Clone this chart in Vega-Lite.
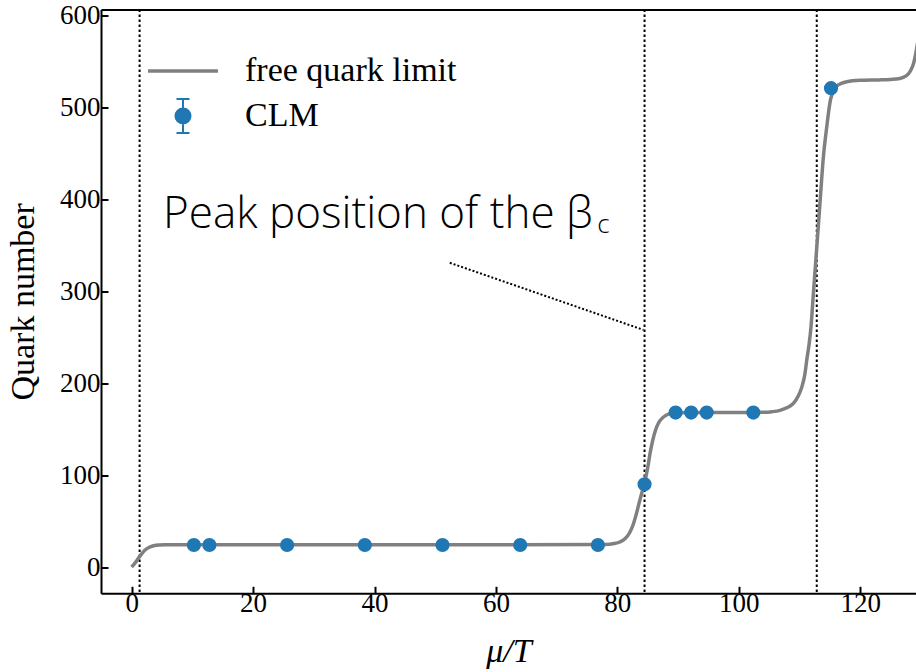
{
  "$schema": "https://vega.github.io/schema/vega-lite/v6.json",
  "autosize": {"type": "none"},
  "padding": {"left": 101, "top": 9.5, "right": 0, "bottom": 78.7},
  "width": 815,
  "height": 583.8,
  "config": {
    "view": {"stroke": null},
    "font": "Liberation Serif",
    "axis": {
      "grid": false,
      "domainColor": "black",
      "domainWidth": 2,
      "tickColor": "black",
      "tickWidth": 2,
      "tickSize": -7,
      "labelFont": "Liberation Serif",
      "labelFontSize": 27,
      "labelColor": "black",
      "titleFont": "Liberation Serif",
      "titleFontSize": 34,
      "titleFontWeight": "normal",
      "titleColor": "black"
    }
  },
  "datasets": {
    "curve": [
      {"x": 0, "y": 0}, {"x": 0.5, "y": 4}, {"x": 1.1, "y": 9.5}, {"x": 1.6, "y": 14},
      {"x": 2.2, "y": 18.5}, {"x": 2.9, "y": 21.5}, {"x": 3.6, "y": 23.2}, {"x": 4.5, "y": 24},
      {"x": 5.5, "y": 24.2}, {"x": 20, "y": 24.3}, {"x": 40, "y": 24.3}, {"x": 60, "y": 24.3},
      {"x": 78, "y": 24.5}, {"x": 79.5, "y": 25.5}, {"x": 80.5, "y": 27.5}, {"x": 81.3, "y": 31},
      {"x": 82, "y": 37}, {"x": 82.6, "y": 46}, {"x": 83.1, "y": 57}, {"x": 83.6, "y": 70},
      {"x": 84.0, "y": 80}, {"x": 84.5, "y": 92}, {"x": 85.0, "y": 108}, {"x": 85.4, "y": 124},
      {"x": 85.8, "y": 137}, {"x": 86.3, "y": 149}, {"x": 86.8, "y": 157}, {"x": 87.4, "y": 162},
      {"x": 88.1, "y": 165.5}, {"x": 89, "y": 167.3}, {"x": 90, "y": 167.8}, {"x": 95, "y": 168},
      {"x": 100, "y": 168}, {"x": 104, "y": 168.3}, {"x": 105.5, "y": 169}, {"x": 106.8, "y": 170.5},
      {"x": 108, "y": 173.5}, {"x": 109, "y": 178}, {"x": 109.8, "y": 186}, {"x": 110.4, "y": 196},
      {"x": 110.9, "y": 210}, {"x": 111.2, "y": 225}, {"x": 111.6, "y": 243}, {"x": 111.9, "y": 261},
      {"x": 112.3, "y": 298}, {"x": 112.7, "y": 334}, {"x": 113.1, "y": 370}, {"x": 113.5, "y": 407},
      {"x": 113.9, "y": 443}, {"x": 114.5, "y": 479}, {"x": 115.1, "y": 508}, {"x": 115.6, "y": 518},
      {"x": 116.1, "y": 523}, {"x": 117, "y": 526.5}, {"x": 117.8, "y": 528}, {"x": 120, "y": 529.5},
      {"x": 123, "y": 530}, {"x": 125, "y": 530.5}, {"x": 126.5, "y": 531.5}, {"x": 127.5, "y": 534},
      {"x": 128.3, "y": 540}, {"x": 128.8, "y": 548}, {"x": 129.2, "y": 560}, {"x": 129.5, "y": 572}
    ],
    "clm": [
      {"x": 10.24, "y": 24}, {"x": 12.8, "y": 24}, {"x": 25.6, "y": 24}, {"x": 38.4, "y": 24},
      {"x": 51.2, "y": 24}, {"x": 64.0, "y": 24}, {"x": 76.8, "y": 24}, {"x": 84.48, "y": 90},
      {"x": 89.6, "y": 168}, {"x": 92.16, "y": 168}, {"x": 94.72, "y": 168}, {"x": 102.4, "y": 168},
      {"x": 115.2, "y": 521}
    ],
    "peaks": [{"x": 1.3}, {"x": 84.48}, {"x": 112.85}],
    "pointer": [{"x": 52.4, "y": 331}, {"x": 84.3, "y": 258}],
    "label": [{"x": 5.16, "y": 369, "t": "Peak position of the β"}],
    "sub": [{"x": 76.7, "y": 363, "t": "c"}]
  },
  "resolve": {"scale": {"x": "shared", "y": "shared"}, "axis": {"x": "independent"}},
  "layer": [
    {
      "data": {"name": "peaks"},
      "mark": {"type": "rule", "color": "black", "strokeWidth": 2, "strokeDash": [2.5, 2.5]},
      "encoding": {
        "x": {
          "field": "x", "type": "quantitative",
          "scale": {"domain": [-5.06, 129.2], "nice": false, "zero": false},
          "axis": {"orient": "top", "labels": false, "ticks": false, "domain": true, "title": null}
        }
      }
    },
    {
      "data": {"name": "pointer"},
      "mark": {"type": "line", "color": "black", "strokeWidth": 2, "strokeDash": [2, 2]},
      "encoding": {
        "x": {"field": "x", "type": "quantitative", "scale": {"domain": [-5.06, 129.2], "nice": false, "zero": false}, "axis": null},
        "y": {"field": "y", "type": "quantitative", "scale": {"domain": [-28.6, 606.6], "nice": false, "zero": false}}
      }
    },
    {
      "data": {"name": "curve"},
      "mark": {"type": "line", "strokeWidth": 3.5, "clip": true, "interpolate": "monotone"},
      "encoding": {
        "x": {
          "field": "x", "type": "quantitative",
          "scale": {"domain": [-5.06, 129.2], "nice": false, "zero": false},
          "axis": {"orient": "bottom", "values": [0, 20, 40, 60, 80, 100, 120], "title": "μ/T", "titleFontStyle": "italic", "labelPadding": 4, "titlePadding": 18}
        },
        "y": {
          "field": "y", "type": "quantitative",
          "scale": {"domain": [-28.6, 606.6], "nice": false, "zero": false},
          "axis": {"values": [0, 100, 200, 300, 400, 500, 600], "title": "Quark number", "labelPadding": 8, "titlePadding": 19}
        },
        "color": {
          "datum": "free quark limit",
          "scale": {"domain": ["free quark limit", "CLM"], "range": ["#808080", "#1f77b4"]},
          "legend": {
            "title": null,
            "orient": "none",
            "legendX": 65,
            "legendY": 44.5,
            "padding": 0,
            "symbolSize": 1936,
            "rowPadding": 6,
            "labelOffset": 45,
            "labelLimit": 400,
            "labelFont": "Liberation Serif",
            "labelFontSize": 34,
            "labelColor": "black",
            "encode": {
              "symbols": {
                "update": {
                  "shape": {"signal": "datum.value === 'CLM' ? 'M0,-0.773V0.773M-0.295,-0.773H0.295M-0.295,0.773H0.295M0.341,0A0.341,0.341,0,1,1,-0.341,0A0.341,0.341,0,1,1,0.341,0Z' : 'M-1.59,0H1.59'"},
                  "fill": {"signal": "datum.value === 'CLM' ? '#1f77b4' : 'transparent'"},
                  "stroke": {"signal": "datum.value === 'CLM' ? '#1f77b4' : '#808080'"},
                  "strokeWidth": {"signal": "datum.value === 'CLM' ? 2 : 3.5"},
                  "opacity": {"value": 1}
                }
              }
            }
          }
        }
      }
    },
    {
      "data": {"name": "clm"},
      "mark": {"type": "circle", "size": 200, "opacity": 1},
      "encoding": {
        "x": {"field": "x", "type": "quantitative", "scale": {"domain": [-5.06, 129.2], "nice": false, "zero": false}, "axis": null},
        "y": {"field": "y", "type": "quantitative", "scale": {"domain": [-28.6, 606.6], "nice": false, "zero": false}},
        "color": {"datum": "CLM"}
      }
    },
    {
      "data": {"name": "label"},
      "mark": {"type": "text", "font": "Open Sans", "fontWeight": 300, "fontSize": 44, "align": "left", "baseline": "alphabetic", "color": "black"},
      "encoding": {
        "x": {"field": "x", "type": "quantitative", "scale": {"domain": [-5.06, 129.2], "nice": false, "zero": false}, "axis": null},
        "y": {"field": "y", "type": "quantitative", "scale": {"domain": [-28.6, 606.6], "nice": false, "zero": false}},
        "text": {"field": "t"}
      }
    },
    {
      "data": {"name": "sub"},
      "mark": {"type": "text", "font": "Open Sans", "fontWeight": 300, "fontSize": 26, "align": "left", "baseline": "alphabetic", "color": "black"},
      "encoding": {
        "x": {"field": "x", "type": "quantitative", "scale": {"domain": [-5.06, 129.2], "nice": false, "zero": false}, "axis": null},
        "y": {"field": "y", "type": "quantitative", "scale": {"domain": [-28.6, 606.6], "nice": false, "zero": false}},
        "text": {"field": "t"}
      }
    }
  ]
}
